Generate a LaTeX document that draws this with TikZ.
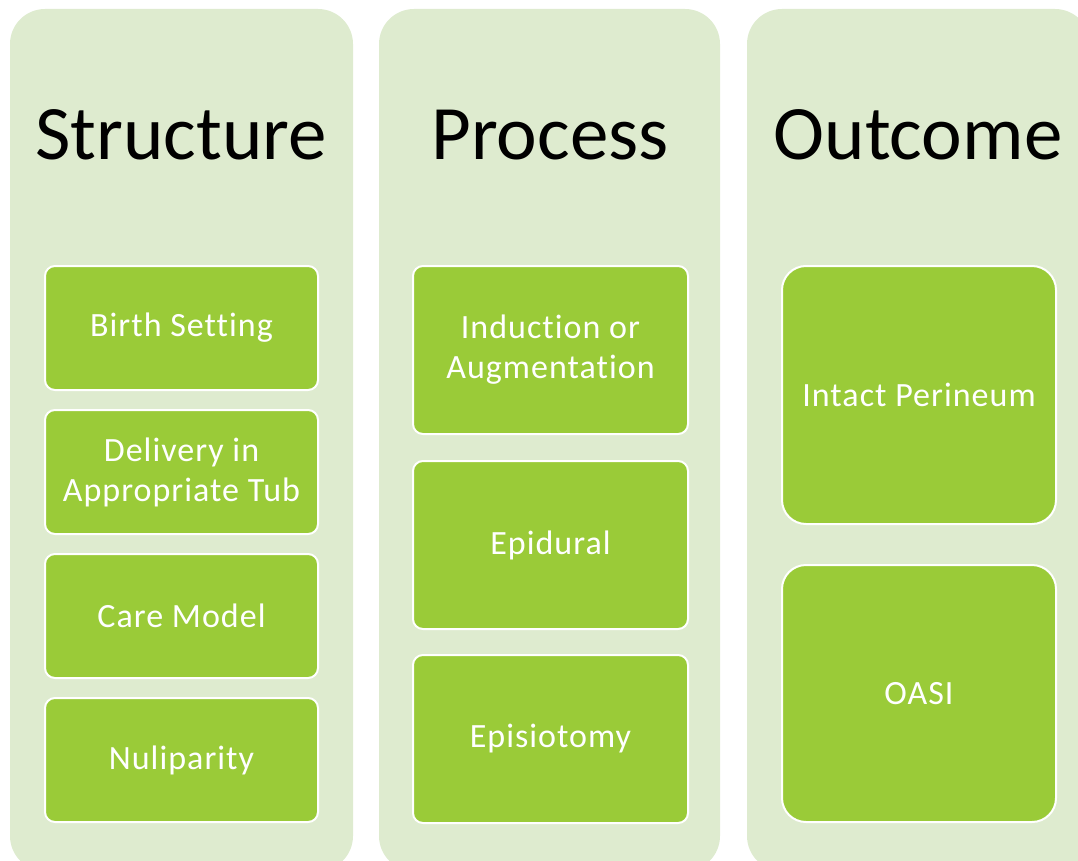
\documentclass[tikz,border=0pt]{standalone}
\usepackage{fontspec}
\setmainfont{Carlito}
\newfontfamily\boxfont{Carlito}[LetterSpace=3.0,Ligatures=NoCommon]
\definecolor{panel}{HTML}{DEEBCF}
\definecolor{leaf}{HTML}{9ACB38}
\tikzset{
  panelbox/.style={fill=panel, draw=none, rounded corners=35pt},
  leafbox/.style={fill=leaf, draw=white, line width=2pt, rounded corners=10pt},
  bigleaf/.style={leafbox, rounded corners=24pt},
  leaftext/.style={text=white, align=center, font=\boxfont\fontsize{34}{40}\selectfont},
  title/.style={font=\fontsize{77}{80}\selectfont, text=black, anchor=base, inner sep=0pt}
}
\begin{document}
\begin{tikzpicture}[x=1pt,y=-1pt]
\useasboundingbox (0,0) rectangle (1078,861);
\clip (0,0) rectangle (1078,861);
% panels
\fill[panelbox] (10,9) rectangle (353,871);
\fill[panelbox] (379,9) rectangle (720,871);
\fill[panelbox] (747,9) rectangle (1090,871);
% titles
\node[title] (t1) at (181,160) {Structure};
\node[title] (t2) at (550,160) {Process};
\node[title] (t3) at (918,160) {Outcome};
% column 1
\path[leafbox] (45,266) rectangle (318,390);
\node[leaftext] (b1) at (181.5,328) {Birth Setting};
\path[leafbox] (45,410) rectangle (318,534);
\node[leaftext] (b2) at (181.5,472) {Delivery in\\Appropriate Tub};
\path[leafbox] (45,554) rectangle (318,678);
\node[leaftext] (b3) at (181.5,616) {Care Model};
\path[leafbox] (45,698) rectangle (318,822);
\node[leaftext] (b4) at (181.5,760) {Nuliparity};
% column 2
\path[leafbox] (413,266) rectangle (688,434);
\node[leaftext] (p1) at (550.5,350) {Induction or\\Augmentation};
\path[leafbox] (413,461) rectangle (688,629);
\node[leaftext] (p2) at (550.5,545) {Epidural};
\path[leafbox] (413,655) rectangle (688,823);
\node[leaftext] (p3) at (550.5,739) {Episiotomy};
% column 3
\path[bigleaf] (782,266) rectangle (1056,524);
\node[leaftext] (o1) at (919,395) {Intact Perineum};
\path[bigleaf] (782,565) rectangle (1056,822);
\node[leaftext] (o2) at (919,693.5) {OASI};
\end{tikzpicture}
\end{document}
